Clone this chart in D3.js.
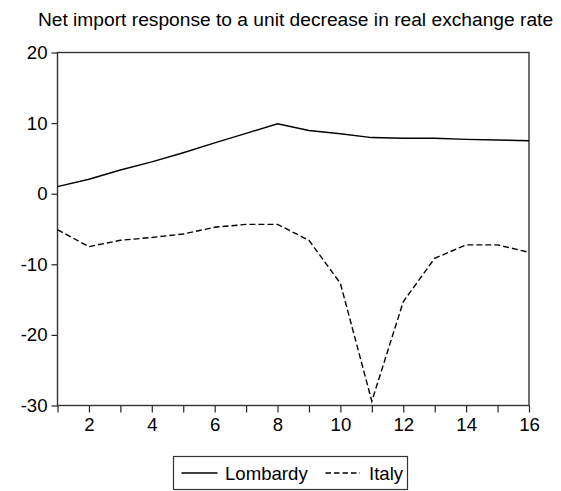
<!DOCTYPE html>
<html>
<head>
<meta charset="utf-8">
<script src="https://cdn.jsdelivr.net/npm/d3@7"></script>
<style>
  html, body { margin: 0; padding: 0; background: #fff; }
  svg { display: block; font-family: "Liberation Sans", Arial, sans-serif; }
</style>
</head>
<body>
<svg id="chart" width="561" height="491"></svg>
<script>
// Impulse-response horizon (periods)
const periods = [1, 2, 3, 4, 5, 6, 7, 8, 9, 10, 11, 12, 13, 14, 15, 16];
// Net import response, Lombardy
const lombardy = [1.0, 2.05, 3.35, 4.5, 5.8, 7.2, 8.55, 9.9, 8.95, 8.5, 7.95, 7.85, 7.85, 7.7, 7.6, 7.5];
// Net import response, Italy
const italy = [-5.1, -7.5, -6.6, -6.2, -5.7, -4.75, -4.35, -4.35, -6.6, -12.7, -29.4, -15.3, -9.15, -7.25, -7.25, -8.3];

const yTicks = [-30, -20, -10, 0, 10, 20];
const xLabelTicks = [2, 4, 6, 8, 10, 12, 14, 16];
const titleText = "Net import response to a unit decrease in real exchange rate";
const seriesNames = ["Lombardy", "Italy"];

const svg = d3.select("#chart");
const box = { left: 57.5, right: 529, top: 52.5, bottom: 405.5 };
const fontSize = 18.6;

const x = d3.scaleLinear().domain([1, 16]).range([box.left, box.right]);
const y = d3.scaleLinear().domain([-30, 20]).range([box.bottom, box.top]);

// Title
svg.append("text")
  .attr("x", 295.5).attr("y", 26)
  .attr("text-anchor", "middle")
  .attr("font-size", 19.2)
  .attr("fill", "#000")
  .text(titleText);

// Left axis (plain hyphen for negatives)
const yAxis = d3.axisLeft(y).tickValues(yTicks).tickSize(6).tickPadding(4).tickFormat(d => String(d));
const gy = svg.append("g").attr("transform", `translate(${box.left},0)`).call(yAxis);
gy.select(".domain").remove();
gy.selectAll("line").attr("stroke", "#222").attr("stroke-width", 1.2);
gy.selectAll("text").attr("font-size", fontSize).attr("fill", "#000").attr("font-family", null);

// Bottom axis: ticks every period, labels on even ones
const xAxis = d3.axisBottom(x).tickValues(periods).tickSize(7).tickPadding(5)
  .tickFormat(d => xLabelTicks.includes(d) ? String(d) : "");
const gx = svg.append("g").attr("transform", `translate(0,${box.bottom})`).call(xAxis);
gx.select(".domain").remove();
gx.selectAll("line").attr("stroke", "#222").attr("stroke-width", 1.2);
gx.selectAll("text").attr("font-size", fontSize).attr("fill", "#000").attr("font-family", null);

// Plot frame
svg.append("rect")
  .attr("x", box.left).attr("y", box.top)
  .attr("width", box.right - box.left).attr("height", box.bottom - box.top)
  .attr("fill", "none").attr("stroke", "#333").attr("stroke-width", 1.4);

const line = d3.line().x((d, i) => x(periods[i])).y(d => y(d));

svg.append("path").datum(lombardy)
  .attr("d", line).attr("fill", "none")
  .attr("stroke", "#000").attr("stroke-width", 1.4);

svg.append("path").datum(italy)
  .attr("d", line).attr("fill", "none")
  .attr("stroke", "#000").attr("stroke-width", 1.4)
  .attr("stroke-dasharray", "6,3");

// Legend
const lg = svg.append("g");
lg.append("rect")
  .attr("x", 173.5).attr("y", 456.5).attr("width", 234).attr("height", 33)
  .attr("fill", "#fff").attr("stroke", "#333").attr("stroke-width", 1.2);
lg.append("line")
  .attr("x1", 181.5).attr("x2", 217.5).attr("y1", 473).attr("y2", 473)
  .attr("stroke", "#000").attr("stroke-width", 1.3);
lg.append("text")
  .attr("x", 225).attr("y", 479.5).attr("font-size", fontSize).attr("fill", "#000")
  .text(seriesNames[0]);
lg.append("line")
  .attr("x1", 325.5).attr("x2", 360).attr("y1", 473).attr("y2", 473)
  .attr("stroke", "#000").attr("stroke-width", 1.3)
  .attr("stroke-dasharray", "5.5,3");
lg.append("text")
  .attr("x", 369).attr("y", 479.5).attr("font-size", fontSize).attr("fill", "#000")
  .text(seriesNames[1]);
</script>
</body>
</html>
